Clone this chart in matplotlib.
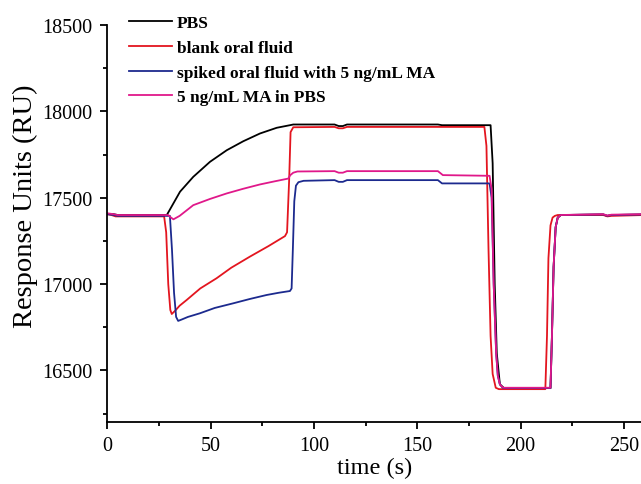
#SPR sensorgram: PBS / oral fluid / MA spiked samples
import matplotlib
matplotlib.use('Agg')
import matplotlib.pyplot as plt
from matplotlib.ticker import MultipleLocator

##########################################
#Data (time in s, response in RU)
t_pbs = [0, 3, 5, 28.8, 35.2, 41.6, 49.7, 57.8, 65.8, 73.9, 82, 88.4, 90, 110, 112, 114, 116, 160, 162,
         185.5, 186.5, 187.5, 188.5, 190, 192, 214.5, 215.2, 216, 217, 218, 219.5, 240, 242, 244, 260]
ru_pbs = [17405, 17405, 17400, 17400, 17535, 17621, 17708, 17775, 17827, 17872, 17905, 17920, 17924, 17924, 17915, 17915, 17924, 17924, 17920,
          17920, 17700, 17000, 16600, 16420, 16398, 16398, 16700, 17100, 17330, 17385, 17400, 17403, 17395, 17400, 17403]

t_blank = [0, 2, 4, 27.5, 28.5, 29.5, 30.5, 31.2, 33, 35, 38.4, 45, 52.9, 60, 69, 78, 86, 87, 88, 88.7, 90,
           110, 112, 114, 116, 160, 162, 182.5, 183.5, 184.5, 185.5, 186.5, 188, 189.5,
           212, 212.8, 213.5, 214.5, 215.5, 216.6, 218, 240, 242, 244, 260]
ru_blank = [17405, 17400, 17392, 17392, 17300, 17000, 16850, 16827, 16848, 16875, 16908, 16975, 17034, 17095, 17159, 17220, 17278, 17300, 17600, 17880, 17908,
            17910, 17902, 17902, 17910, 17910, 17910, 17910, 17800, 17200, 16700, 16480, 16400, 16392,
            16392, 16700, 17150, 17340, 17385, 17395, 17400, 17400, 17392, 17395, 17400]

t_spiked = [0, 3, 5, 30.3, 31.3, 32.3, 33.3, 34.3, 36, 39, 44.8, 52, 61, 69, 77.1, 83, 88.4, 89.2, 89.8, 90.5, 91.3, 92.5, 95,
            110, 112, 114, 116, 160, 162, 185, 186, 187, 188.2, 189, 190, 191.5,
            214.5, 215.2, 216, 217, 218, 219.5, 240, 242, 244, 260]
ru_spiked = [17405, 17400, 17395, 17395, 17200, 16950, 16810, 16787, 16795, 16810, 16831, 16862, 16889, 16914, 16937, 16950, 16960, 16975, 17200, 17480, 17570, 17590, 17598,
             17602, 17592, 17592, 17602, 17602, 17583, 17583, 17500, 17000, 16600, 16470, 16420, 16398,
             16398, 16700, 17100, 17330, 17385, 17400, 17403, 17395, 17400, 17403]

t_ma = [0, 3, 5, 29.5, 30.3, 32, 35, 41.6, 49.7, 57.8, 65.8, 73.9, 81, 87.6, 88.5, 90, 92,
        110, 112, 114, 116, 160, 162.4, 185, 186, 187, 188.2, 189, 190, 191.5,
        214.5, 215.2, 216, 217, 218, 219.5, 240, 242, 244, 260]
ru_ma = [17410, 17405, 17400, 17400, 17390, 17375, 17395, 17457, 17493, 17525, 17552, 17577, 17595, 17611, 17630, 17645, 17652,
         17654, 17645, 17645, 17654, 17654, 17631, 17627, 17550, 17000, 16600, 16470, 16420, 16400,
         16400, 16700, 17100, 17330, 17385, 17400, 17405, 17397, 17402, 17405]

labels = ['PBS', 'blank oral fluid', 'spiked oral fluid with 5 ng/mL MA', '5 ng/mL MA in PBS']
colors = ['black', '#e3151f', '#1c2a8e', '#e0188a']

##########################################
#Plot
plt.rcParams['font.family'] = ['Liberation Serif', 'DejaVu Serif']

fig = plt.figure(figsize=(6.41, 4.85), dpi=100)
ax = fig.add_axes([0.1674, 0.1272, 0.8326, 0.8192])

series = [(t_pbs, ru_pbs), (t_blank, ru_blank), (t_spiked, ru_spiked), (t_ma, ru_ma)]
for (tt, rr), lab, col in zip(series, labels, colors):
	ax.plot(tt, rr, color=col, lw=1.3, label=lab)

ax.set_xlim(0, 258.3)
ax.set_ylim(16200, 18500)

ax.xaxis.set_major_locator(MultipleLocator(50))
ax.xaxis.set_minor_locator(MultipleLocator(25))
ax.yaxis.set_major_locator(MultipleLocator(500))
ax.yaxis.set_minor_locator(MultipleLocator(250))

for side in ['top', 'right']:
	ax.spines[side].set_visible(False)
for side in ['left', 'bottom']:
	ax.spines[side].set_linewidth(1.3)

ax.tick_params(which='major', direction='out', length=5, width=1.3, labelsize=14.5)
ax.tick_params(axis='x', which='major', pad=4.5)
ax.tick_params(axis='y', which='major', pad=5.5)
ax.tick_params(which='minor', direction='out', length=3, width=1.3)

ax.set_xlabel('time (s)', fontsize=17.5, labelpad=1.5)
ax.set_ylabel('Response Units (RU)', fontsize=20.5)
ax.yaxis.set_label_coords(-0.13, 0.547)

leg = ax.legend(loc='upper left', bbox_to_anchor=(0.0275, 1.042), frameon=False,
                prop={'weight': 'bold', 'size': 12.5}, handlelength=2.5, handletextpad=0.25,
                labelspacing=0.49, borderaxespad=0)

plt.savefig('out.png', dpi=100)
